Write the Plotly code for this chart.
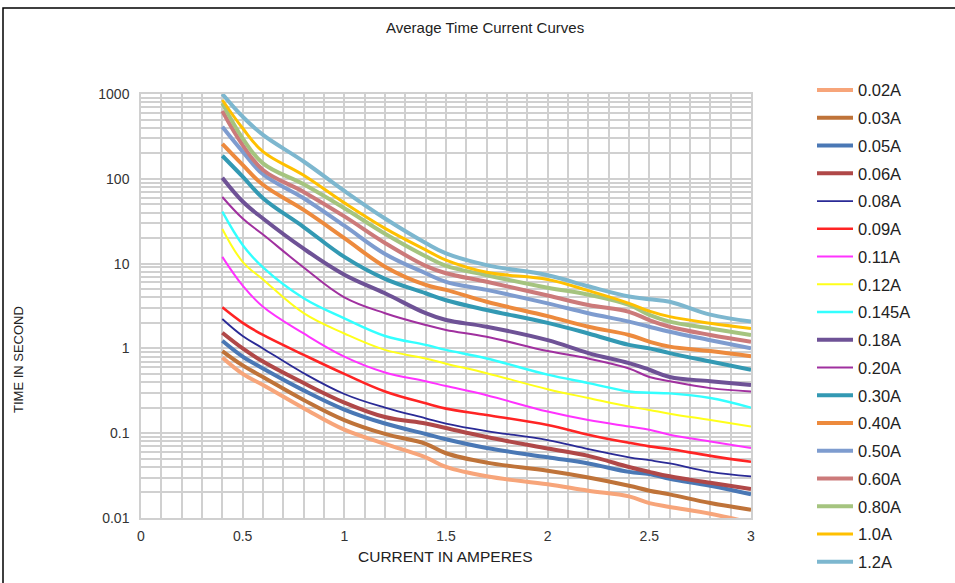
import plotly.graph_objects as go

current_x = [0.4, 0.5, 0.6, 0.8, 1.0, 1.2, 1.4, 1.5, 1.7, 2.0, 2.2, 2.4, 2.5, 2.6, 2.8, 3.0]

series_names = ["0.02A", "0.03A", "0.05A", "0.06A", "0.08A", "0.09A", "0.11A", "0.12A", "0.145A",
                "0.18A", "0.20A", "0.30A", "0.40A", "0.50A", "0.60A", "0.80A", "1.0A", "1.2A"]

t_002 = [0.78, 0.5, 0.37, 0.197, 0.11, 0.075, 0.052, 0.04, 0.031, 0.025, 0.021, 0.018, 0.015, 0.0135, 0.0112, 0.0088]
t_003 = [0.93, 0.63, 0.46, 0.247, 0.143, 0.098, 0.075, 0.058, 0.045, 0.036, 0.030, 0.024, 0.021, 0.019, 0.015, 0.0125]
t_005 = [1.23, 0.8, 0.58, 0.32, 0.19, 0.13, 0.098, 0.085, 0.067, 0.052, 0.044, 0.035, 0.033, 0.029, 0.024, 0.019]
t_006 = [1.53, 1.0, 0.70, 0.39, 0.23, 0.155, 0.13, 0.115, 0.09, 0.066, 0.054, 0.040, 0.035, 0.031, 0.026, 0.022]
t_008 = [2.22, 1.4, 1.0, 0.51, 0.29, 0.2, 0.15, 0.13, 0.106, 0.083, 0.065, 0.052, 0.048, 0.044, 0.035, 0.031]
t_009 = [3.05, 2.0, 1.44, 0.84, 0.5, 0.31, 0.225, 0.195, 0.164, 0.125, 0.096, 0.077, 0.07, 0.065, 0.054, 0.046]
t_011 = [12, 5.5, 3.1, 1.5, 0.8, 0.52, 0.41, 0.36, 0.28, 0.18, 0.143, 0.12, 0.11, 0.096, 0.08, 0.067]
t_012 = [25.6, 10.5, 6.5, 2.6, 1.5, 0.96, 0.76, 0.66, 0.51, 0.33, 0.26, 0.206, 0.188, 0.17, 0.143, 0.12]
t_0145 = [41, 16.6, 9.0, 3.9, 2.26, 1.4, 1.1, 0.96, 0.76, 0.49, 0.39, 0.31, 0.30, 0.295, 0.26, 0.2]
t_018 = [103, 54, 34, 15, 7.4, 4.47, 2.6, 2.16, 1.8, 1.25, 0.88, 0.67, 0.56, 0.46, 0.41, 0.37]
t_020 = [61, 34, 22, 9.0, 4.0, 2.6, 1.89, 1.65, 1.37, 0.93, 0.76, 0.58, 0.46, 0.41, 0.34, 0.31]
t_030 = [187, 106, 59, 27, 12, 6.6, 4.47, 3.7, 2.84, 2.0, 1.5, 1.1, 1.0, 0.88, 0.70, 0.56]
t_040 = [258, 146, 85, 43, 20, 9.2, 5.6, 4.9, 3.55, 2.4, 1.8, 1.44, 1.2, 1.05, 0.93, 0.81]
t_050 = [411, 209, 113, 59, 28, 13, 7.7, 6.1, 4.9, 3.4, 2.6, 2.07, 1.8, 1.57, 1.25, 1.0]
t_060 = [630, 250, 127, 70, 36, 17.5, 9.4, 7.7, 6.1, 4.2, 3.25, 2.7, 2.16, 1.8, 1.44, 1.2]
t_080 = [780, 300, 152, 86, 45, 22.5, 12.2, 9.4, 7.3, 5.2, 4.3, 3.25, 2.48, 2.07, 1.72, 1.44]
t_100 = [850, 394, 209, 110, 52, 26, 14.5, 11, 7.9, 6.5, 4.8, 3.4, 2.75, 2.37, 1.98, 1.72]
t_120 = [1000, 540, 329, 160, 72, 34, 17.5, 13.2, 9.6, 7.3, 5.4, 4.1, 3.8, 3.55, 2.5, 2.07]

y_tick_vals = [0.01, 0.1, 1, 10, 100, 1000]
y_tick_text = ["0.01", "0.1", "1", "10", "100", "1000"]
x_tick_vals = [0, 0.5, 1, 1.5, 2, 2.5, 3]
x_tick_text = ["0", "0.5", "1", "1.5", "2", "2.5", "3"]

all_series = [t_002, t_003, t_005, t_006, t_008, t_009, t_011, t_012, t_0145,
              t_018, t_020, t_030, t_040, t_050, t_060, t_080, t_100, t_120]
colors = ["#F7A57A", "#BF7339", "#4A78B5", "#B04848", "#2A2A96", "#FF2424", "#FF33FF", "#FFFF1A", "#33FFFF",
          "#6E5296", "#A0309F", "#3399B3", "#ED8A3D", "#7E9CCF", "#CC7A7A", "#A5C47F", "#FFC000", "#7DB7CF"]
widths = [4, 4, 4, 4, 1.8, 2.6, 2, 2, 2.4, 4, 2, 4, 4, 4, 4, 4, 3, 4]

fig = go.Figure()
for i, (name, ys) in enumerate(zip(series_names, all_series)):
    fig.add_trace(go.Scatter(
        x=current_x, y=ys, name=name, mode="lines",
        line=dict(color=colors[i], width=widths[i], shape="spline", smoothing=1.1),
        legendgroup=name,
    ))

grid_col = "#D0D0D0"
fig.update_layout(
    width=955, height=583,
    margin=dict(l=141, r=204, t=94, b=65),
    paper_bgcolor="white", plot_bgcolor="white",
    font=dict(family="Liberation Sans, Arial, sans-serif", color="#333333", size=12),
    showlegend=True,
    legend=dict(x=1.1, y=1.05, xanchor="left", yanchor="top",
                font=dict(size=16.5, color="#222222"),
                traceorder="grouped", tracegroupgap=3.3, itemwidth=36,
                maxheight=1.0,
                bgcolor="rgba(0,0,0,0)"),
    xaxis=dict(range=[0, 3], tickvals=x_tick_vals, ticktext=x_tick_text,
               showgrid=True, gridcolor=grid_col, gridwidth=1.5,
               minor=dict(dtick=0.1, showgrid=True, gridcolor=grid_col, gridwidth=1.5),
               showline=True, linecolor=grid_col, linewidth=1.5, mirror=True,
               zeroline=False, ticks="", ticklabelstandoff=4,
               tickfont=dict(size=14, color="#333333")),
    yaxis=dict(type="log", range=[-2, 3], tickvals=y_tick_vals, ticktext=y_tick_text,
               showgrid=True, gridcolor=grid_col, gridwidth=1.5,
               minor=dict(dtick="D1", showgrid=True, gridcolor=grid_col, gridwidth=1.5),
               showline=True, linecolor=grid_col, linewidth=1.5, mirror=True,
               zeroline=False, ticks="", ticklabelstandoff=7,
               tickfont=dict(size=14, color="#333333")),
)

fig.add_shape(type="rect", xref="paper", yref="paper",
              x0=(3 - 141) / 610, x1=(965 - 141) / 610,
              y0=(518 - 600) / 424, y1=(518 - 8) / 424,
              line=dict(color="black", width=1.5), layer="below")

fig.add_annotation(text="Average Time Current Curves", xref="paper", yref="paper",
                   x=(485 - 141) / 610, y=(518 - 27) / 424, showarrow=False,
                   font=dict(size=15, color="#222222"), xanchor="center", yanchor="middle")
fig.add_annotation(text="CURRENT IN AMPERES", xref="paper", yref="paper",
                   x=(445 - 141) / 610, y=(518 - 556) / 424, showarrow=False,
                   font=dict(size=15.5, color="#222222"), xanchor="center", yanchor="middle")
fig.add_annotation(text="TIME IN SECOND", xref="paper", yref="paper",
                   x=(18 - 141) / 610, y=(518 - 360) / 424, showarrow=False, textangle=-90,
                   font=dict(size=13, color="#222222"), xanchor="center", yanchor="middle")

fig.write_html("out.html", config={"displayModeBar": False},
               post_script="document.body.style.margin='0px';document.body.style.overflow='hidden';")
